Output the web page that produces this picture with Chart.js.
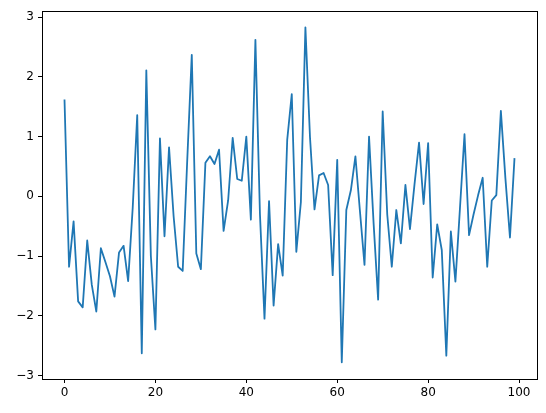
<!DOCTYPE html>
<html>
<head>
<meta charset="utf-8">
<script src="https://cdn.jsdelivr.net/npm/chart.js@4/dist/chart.umd.min.js"></script>
<style>
  html, body { margin: 0; padding: 0; background: #fff; }
  canvas { display: block; }
</style>
</head>
<body>
<canvas id="chart" width="546" height="413"></canvas>
<script>
// values, one per index 0..99
const values = [
  1.62, -1.18, -0.42, -1.76, -1.86, -0.74, -1.48, -1.93, -0.87, -1.10,
  -1.34, -1.68, -0.94, -0.83, -1.42, -0.20, 1.36, -2.63, 2.11, -1.00,
  -2.23, 0.97, -0.67, 0.82, -0.33, -1.18, -1.25, 0.60, 2.37, -0.96,
  -1.22, 0.56, 0.67, 0.54, 0.78, -0.58, -0.07, 0.98, 0.29, 0.26,
  1.00, -0.39, 2.62, -0.30, -2.05, -0.08, -1.83, -0.80, -1.33, 0.95,
  1.71, -0.93, -0.10, 2.83, 1.00, -0.22, 0.35, 0.39, 0.19, -1.32,
  0.61, -2.78, -0.23, 0.10, 0.67, -0.25, -1.15, 1.00, -0.45, -1.73,
  1.42, -0.30, -1.18, -0.23, -0.79, 0.19, -0.55, 0.20, 0.90, -0.13,
  0.89, -1.36, -0.47, -0.90, -2.67, -0.59, -1.43, -0.20, 1.04, -0.65,
  -0.30, 0.02, 0.31, -1.18, -0.07, 0.02, 1.43, 0.30, -0.69, 0.64
];
const xTicks = [0, 20, 40, 60, 80, 100];
const yTicks = [-3, -2, -1, 0, 1, 2, 3];

const points = values.map((v, i) => ({ x: i, y: v }));
const fmt = v => (v < 0 ? '\u2212' + Math.abs(v) : String(v));

// matplotlib style closed frame around the axes
const framePlugin = {
  id: 'frame',
  afterDraw(chart) {
    const a = chart.chartArea;
    const c = chart.ctx;
    c.save();
    c.strokeStyle = '#000';
    c.lineWidth = 1;
    c.strokeRect(Math.round(a.left) + 0.5, Math.round(a.top) + 0.5,
                 Math.round(a.right - a.left), Math.round(a.bottom - a.top));
    c.restore();
  }
};

const tickFont = { family: 'DejaVu Sans', size: 12 };

new Chart(document.getElementById('chart'), {
  type: 'line',
  data: {
    datasets: [{
      data: points,
      borderColor: '#1f77b4',
      borderWidth: 1.8,
      pointRadius: 0,
      tension: 0,
      borderJoinStyle: 'round',
      fill: false
    }]
  },
  options: {
    responsive: false,
    animation: false,
    devicePixelRatio: 1,
    layout: { padding: { left: 0, right: 9, top: 11, bottom: 0 } },
    plugins: { legend: { display: false }, tooltip: { enabled: false } },
    scales: {
      x: {
        type: 'linear',
        min: -4.95,
        max: 103.95,
        afterBuildTicks: s => { s.ticks = xTicks.map(v => ({ value: v })); },
        afterFit: s => { s.height = 34; },
        grid: { display: true, drawOnChartArea: false, drawTicks: true, tickLength: 4, color: '#000' },
        border: { display: true, color: '#000' },
        ticks: { color: '#000', font: tickFont, padding: 3, maxRotation: 0, callback: v => fmt(v) }
      },
      y: {
        type: 'linear',
        min: -3.06,
        max: 3.10,
        afterBuildTicks: s => { s.ticks = yTicks.map(v => ({ value: v })); },
        afterFit: s => { s.width = 42; },
        grid: { display: true, drawOnChartArea: false, drawTicks: true, tickLength: 4, color: '#000' },
        border: { display: true, color: '#000' },
        ticks: { color: '#000', font: tickFont, padding: 4, callback: v => fmt(v) }
      }
    }
  },
  plugins: [framePlugin]
});
</script>
</body>
</html>
